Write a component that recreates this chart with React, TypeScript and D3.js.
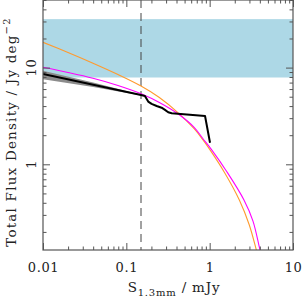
import React, { useEffect, useRef } from 'react';
import * as d3 from 'd3';

// flux (mJy) vs total flux density (Jy deg^-2)
const orangeS = [0.01, 0.01995, 0.0398, 0.0794, 0.15, 0.249, 0.409, 0.655, 0.823, 1.01, 1.5, 2.27, 2.99, 3.63, 3.95];
const orangeF = [18.27, 14.32, 11.1, 8.48, 6.45, 4.91, 3.47, 2.32, 1.81, 1.41, 0.829, 0.428, 0.236, 0.13, 0.098];

const magentaS = [0.01, 0.01995, 0.0398, 0.0794, 0.1556, 0.249, 0.42, 0.655, 0.823, 1.058, 1.615, 2.58, 3.31, 4.02, 4.49];
const magentaF = [10.07, 8.9, 7.75, 6.53, 5.3, 4.36, 3.31, 2.4, 1.86, 1.41, 0.833, 0.428, 0.259, 0.13, 0.091];

const blackS = [0.01, 0.15, 0.167, 0.183, 0.201, 0.231, 0.265, 0.291, 0.318, 0.35, 0.88, 1.01];
const blackF = [8.6, 5.2, 5.09, 4.45, 4.21, 4.01, 3.85, 3.65, 3.45, 3.37, 3.16, 1.67];

const bandS = [0.01, 0.04, 0.15];
const bandLo = [7.6, 6.3, 5.15];
const bandHi = [9.3, 7.0, 5.25];

const blueLo = 7.9;
const blueHi = 31.7;
const cutS = 0.15;

const xMajor = [0.01, 0.1, 1, 10];
const xLabels = ['0.01', '0.1', '1', '10'];
const yMajor = [1, 10];
const yLabels = ['1', '10'];

const W = 302, H = 300;
const margin = { top: 0, right: 9, bottom: 50, left: 43 };
const FONT = '"DejaVu Serif", serif';

const App = () => {
    const ref = useRef<SVGSVGElement>(null);

    useEffect(() => {
        const svg = d3.select(ref.current);
        svg.selectAll('*').remove();
        const w = W - margin.left - margin.right;
        const h = H - margin.top - margin.bottom;
        const g = svg.append('g').attr('transform', `translate(${margin.left},${margin.top})`);

        const x = d3.scaleLog().domain([0.01, 10]).range([0, w]);
        const y = d3.scaleLog().domain([0.13, 50]).range([h, 0]);

        g.append('clipPath').attr('id', 'plotclip')
            .append('rect').attr('width', w).attr('height', h);
        const plot = g.append('g').attr('clip-path', 'url(#plotclip)');

        // blue band
        plot.append('rect')
            .attr('x', 0).attr('width', w)
            .attr('y', y(blueHi)).attr('height', y(blueLo) - y(blueHi))
            .attr('fill', '#add8e6');

        // grey uncertainty band
        const bandData = bandS.map((s, i) => ({ s, lo: bandLo[i], hi: bandHi[i] }));
        plot.append('path')
            .datum(bandData)
            .attr('fill', '#8c8c8c')
            .attr('d', d3.area<any>().x(d => x(d.s)).y0(d => y(d.lo)).y1(d => y(d.hi)));

        // dashed limit
        plot.append('line')
            .attr('x1', x(cutS)).attr('x2', x(cutS))
            .attr('y1', 0).attr('y2', h)
            .attr('stroke', '#444').attr('stroke-width', 1)
            .attr('stroke-dasharray', '8,5');

        const smooth = d3.line<[number, number]>()
            .x(d => x(d[0])).y(d => y(d[1]))
            .curve(d3.curveCatmullRom.alpha(0.5));

        plot.append('path')
            .datum(orangeS.map((s, i) => [s, orangeF[i]] as [number, number]))
            .attr('fill', 'none').attr('stroke', '#ff9a2e').attr('stroke-width', 1.1)
            .attr('d', smooth);
        plot.append('path')
            .datum(magentaS.map((s, i) => [s, magentaF[i]] as [number, number]))
            .attr('fill', 'none').attr('stroke', '#ff00ff').attr('stroke-width', 1.1)
            .attr('d', smooth);

        plot.append('path')
            .datum(blackS.map((s, i) => [s, blackF[i]] as [number, number]))
            .attr('fill', 'none').attr('stroke', '#000').attr('stroke-width', 2)
            .attr('stroke-linejoin', 'round')
            .attr('d', d3.line<[number, number]>().x(d => x(d[0])).y(d => y(d[1])));

        // axes: ticks inward on all four sides
        const xMinor = x.ticks().filter(v => !xMajor.some(m => Math.abs(m - v) < 1e-9));
        const yMinor = y.ticks().filter(v => !yMajor.some(m => Math.abs(m - v) < 1e-9));
        const axisColor = '#555';

        const style = (sel: any) => {
            sel.select('.domain').remove();
            sel.selectAll('line').attr('stroke', axisColor);
            sel.selectAll('text').attr('fill', '#222').style('font-family', FONT)
                .style('font-size', '13px').style('letter-spacing', '0.6px');
        };

        g.append('g').attr('transform', `translate(0,${h})`)
            .call(d3.axisBottom(x).tickValues(xMajor).tickSize(-7).tickPadding(13)
                .tickFormat((d, i) => xLabels[i]))
            .call(style);
        g.append('g').attr('transform', `translate(0,${h})`)
            .call(d3.axisBottom(x).tickValues(xMinor).tickSize(-3.5).tickFormat(() => ''))
            .call(style);
        g.append('g')
            .call(d3.axisTop(x).tickValues(xMajor).tickSize(-7).tickFormat(() => ''))
            .call(style);
        g.append('g')
            .call(d3.axisTop(x).tickValues(xMinor).tickSize(-3.5).tickFormat(() => ''))
            .call(style);

        const yl = g.append('g')
            .call(d3.axisLeft(y).tickValues(yMajor).tickSize(-7).tickFormat(() => ''))
            .call(style);
        g.append('g')
            .call(d3.axisLeft(y).tickValues(yMinor).tickSize(-3.5).tickFormat(() => ''))
            .call(style);
        g.append('g').attr('transform', `translate(${w},0)`)
            .call(d3.axisRight(y).tickValues(yMajor).tickSize(-7).tickFormat(() => ''))
            .call(style);
        g.append('g').attr('transform', `translate(${w},0)`)
            .call(d3.axisRight(y).tickValues(yMinor).tickSize(-3.5).tickFormat(() => ''))
            .call(style);

        // rotated y tick labels
        yl.selectAll('.ylab').data(yMajor).join('text')
            .attr('class', 'ylab')
            .attr('transform', d => `translate(-7,${y(d)}) rotate(-90)`)
            .attr('text-anchor', 'middle')
            .attr('fill', '#222')
            .style('font-family', FONT).style('font-size', '13px').style('letter-spacing', '0.6px')
            .text((d, i) => yLabels[i]);

        // frame
        g.append('rect').attr('width', w).attr('height', h)
            .attr('fill', 'none').attr('stroke', axisColor).attr('stroke-width', 1.2);

        // axis titles
        const xt = svg.append('text')
            .attr('x', 174).attr('y', 292)
            .attr('text-anchor', 'middle').attr('fill', '#222')
            .style('font-family', FONT).style('font-size', '13.5px').style('letter-spacing', '0.8px');
        xt.append('tspan').text('S');
        xt.append('tspan').attr('dy', 4).style('font-size', '10px').text('1.3mm');
        xt.append('tspan').attr('dy', -4).text(' / mJy');

        const yt = svg.append('text')
            .attr('transform', `translate(16,${margin.top + 132}) rotate(-90)`)
            .attr('text-anchor', 'middle').attr('fill', '#222')
            .style('font-family', FONT).style('font-size', '13.5px').style('letter-spacing', '1.2px');
        yt.append('tspan').text('Total Flux Density / Jy deg');
        yt.append('tspan').attr('dy', -6).style('font-size', '10px').text('\u22122');
    }, []);

    return (
        <svg ref={ref} width={W} height={H}
            style={{ position: 'absolute', left: 0, top: 0, background: '#fff' }} />
    );
};

export default App;
